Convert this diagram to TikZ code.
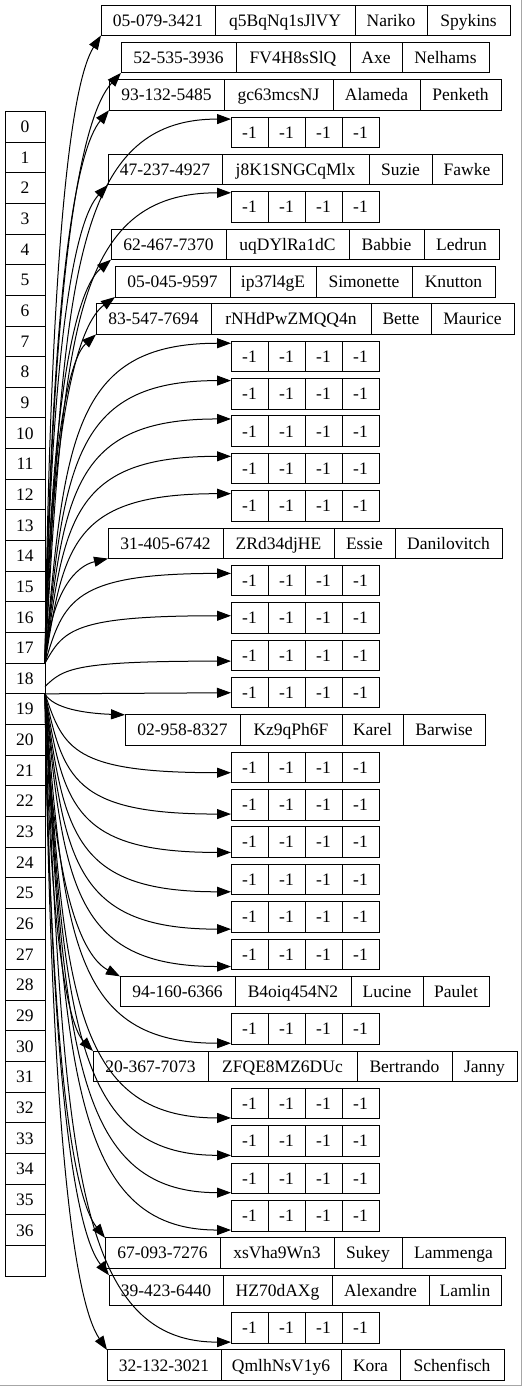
\documentclass[tikz,border=0pt]{standalone}
\usepackage{fontspec}
\setmainfont{Liberation Serif}
\usetikzlibrary{arrows.meta,calc}
\tikzset{>={Triangle[length=14pt,width=10pt]}}

\tikzset{
  slot/.style={draw,line width=1pt,minimum width=40pt,minimum height=30.65pt,
    inner sep=0pt,outer sep=0pt,font=\fontsize{17.5}{20}\selectfont,
    text height=11.6pt,text depth=0pt},
  cell/.style={draw,line width=1pt,minimum height=30.5pt,inner xsep=1pt,
    inner ysep=0pt,outer sep=0pt,anchor=north west,
    font=\fontsize{17.5}{20}\selectfont,text height=11.6pt,text depth=0pt},
  link/.style 2 args={->,line width=1pt,
    to path={let \p1=(\tikztostart),\p2=(\tikztotarget) in
      .. controls ({\x1+0.1*(\x2-\x1)},{\y1+0.7*(\y2-\y1)})
      and ({\x2-#1*(\x2-\x1)},{\y2-#2*(\y2-\y1)}) .. (\p2) \tikztonodes}}
}

% record: name, left x, bucket index, width/text cells
\newcommand{\rec}[4]{%
  \foreach \w/\txt [count=\k, remember=\k as \j (initially 0)] in {#4} {
    \ifnum\k=1
      \node[cell,minimum width=\w pt] (#1-1) at (#2,{-5-37.36*#3}) {\txt};
    \else
      \node[cell,minimum width=\w pt] (#1-\k) at (#1-\j.north east) {\txt};
    \fi
  }%
}

\begin{document}
\begin{tikzpicture}[x=1pt,y=1pt]
  \useasboundingbox (0,0) rectangle (523,-1387);
  \draw[gray!70,line width=1pt] (521.5,0) -- (521.5,-1385) -- (0,-1385);

  % the table
  \foreach \i in {0,...,36}
    \node[slot] (t\i) at (25,{-126.8-30.65*\i}) {\i};
  \node[slot] (t37) at (25,{-126.8-30.65*37}) {};

  % filled buckets
  \rec{r0}{101}{0}{114/05-079-3421,140/q5BqNq1sJlVY,72/Nariko,83/Spykins}
  \rec{r1}{121}{1}{115/52-535-3936,114/FV4H8sSlQ,52/Axe,87/Nelhams}
  \rec{r2}{109}{2}{115/93-132-5485,109/gc63mcsNJ,87/Alameda,81/Penketh}
  \rec{r4}{108}{4}{114/47-237-4927,147/j8K1SNGCqMlx,63/Suzie,70/Fawke}
  \rec{r6}{111}{6}{115/62-467-7370,123/uqDYlRa1dC,75/Babbie,75/Ledrun}
  \rec{r7}{115}{7}{115/05-045-9597,86/ip37l4gE,96/Simonette,83/Knutton}
  \rec{r8}{96}{8}{115/83-547-7694,160/rNHdPwZMQQ4n,60/Bette,83/Maurice}
  \rec{r14}{108}{14}{115/31-405-6742,111/ZRd34djHE,61/Essie,107/Danilovitch}
  \rec{r19}{125}{19}{115/02-958-8327,102/Kz9qPh6F,61/Karel,82/Barwise}
  \rec{r26}{120}{26}{115/94-160-6366,116/B4oiq454N2,72/Lucine,66/Paulet}
  \rec{r28}{93}{28}{115/20-367-7073,149/ZFQE8MZ6DUc,95/Bertrando,65/Janny}
  \rec{r33}{105}{33}{115/67-093-7276,114/xsVha9Wn3,68/Sukey,103/Lammenga}
  \rec{r34}{109}{34}{114/39-423-6440,109/HZ70dAXg,97/Alexandre,72/Lamlin}
  \rec{r36}{107}{36}{114/32-132-3021,120/QmlhNsV1y6,59/Kora,104/Schenfisch}

  % empty buckets
  \foreach \i in {3,5,9,10,11,12,13,15,16,17,18,20,21,22,23,24,25,27,29,30,31,32,35}{
    \rec{r\i}{231}{\i}{37/-1,37/-1,37/-1,37/-1}
  }

  % links going up
  \foreach \i in {0,1,2,4,6,7,8,14}
    \draw[link={0.5}{0.07}] (t17.south east) to (r\i-1.south west);
  \foreach \i/\s in {3/-2,5/-1,9/-2,10/-2,11/-3,12/-3,13/-3,15/-8,16/-13}
    \draw[link={0.85}{0}] (t17.south east) to ([yshift=\s pt]r\i-1.north west);
  \draw[link={0.85}{0}] ([yshift=-8pt]t18.east) to ([yshift=-21pt]r17-1.north west);
  \draw[->,line width=1pt] (t18.south east) -- (r18-1.west);

  % links going down
  \foreach \i in {19,26,28,33,34,36}
    \draw[link={0.5}{0.07}] (t18.south east) to (r\i-1.north west);
  \foreach \i/\s in {20/10,21/6,22/5,23/3,24/3,25/3,27/1,29/1,30/1,31/1,32/1,35/1}
    \draw[link={0.85}{0}] (t18.south east) to ([yshift=\s pt]r\i-1.south west);
\end{tikzpicture}
\end{document}
